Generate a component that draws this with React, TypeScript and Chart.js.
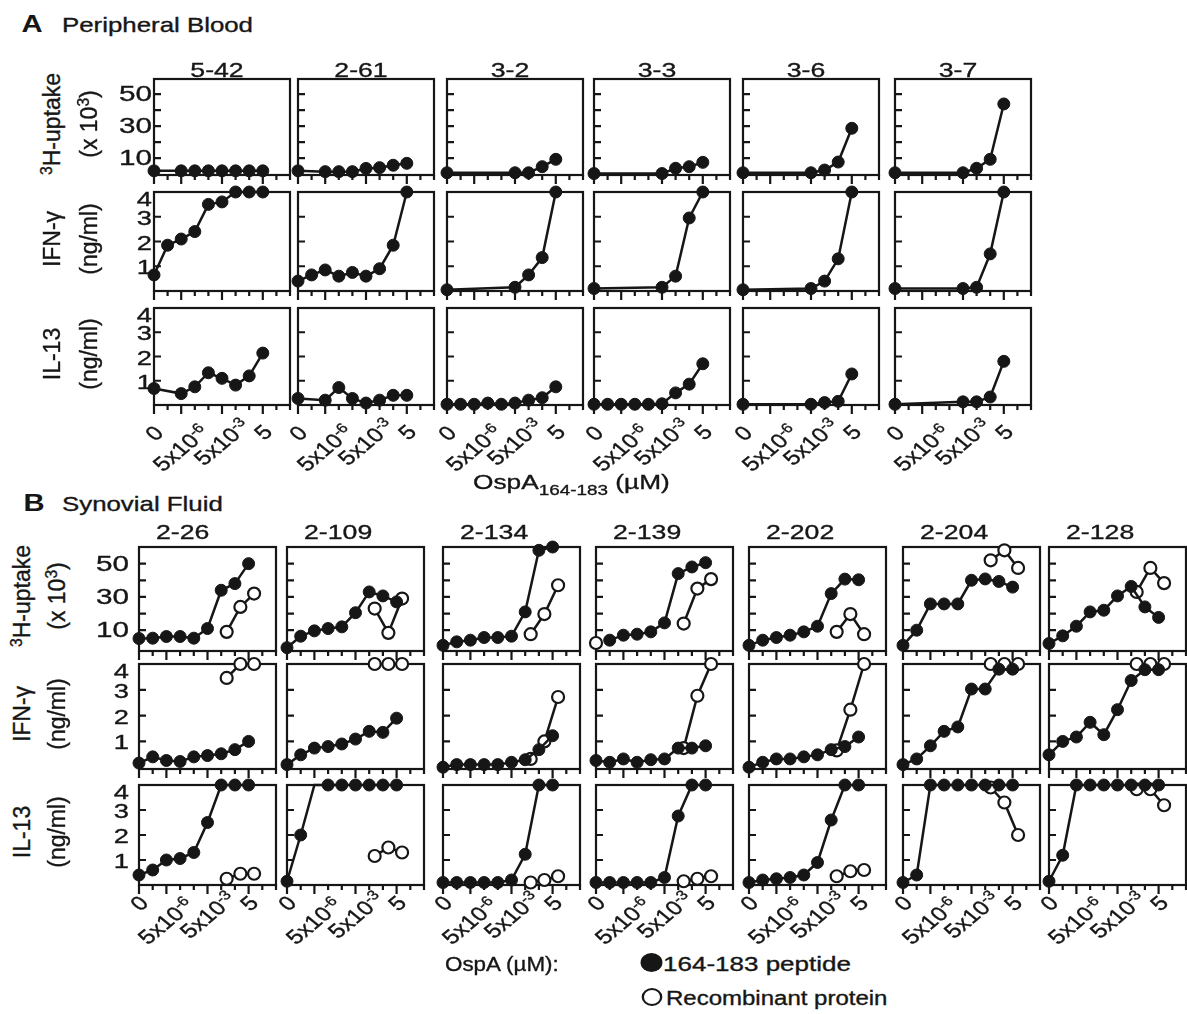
import React, { useEffect, useRef } from "react";
import { Chart, registerables } from "chart.js";
Chart.register(...registerables);

// ---------- x positions (decades: 0 = no antigen, 2 = 5x10^-6, 5 = 5x10^-3, 8 = 5 µM)
const X9 = [0, 1, 2, 3, 4, 5, 6, 7, 8];
const X8 = [0, 2, 3, 4, 5, 6, 7, 8];
const X5 = [0, 5, 6, 7, 8];
const X_1TO8 = [1, 2, 3, 4, 5, 6, 7, 8];
const XREC = [6.4, 7.4, 8.4];
const XREC_139 = [0, 3, 6.4, 7.4, 8.4];
const X_TICK_VALUES = [0, 2, 5, 8];
const X_TICK_BASE = ["0", "5x10", "5x10", "5"];
const X_TICK_SUP = ["", "-6", "-3", ""];

// ---------- A: Peripheral blood (peptide only)
const A_NAMES = ["5-42", "2-61", "3-2", "3-3", "3-6", "3-7"];
const a542_H = [2, 2, 2, 2, 2, 2, 2, 2];
const a542_I = [0.65, 1.85, 2.1, 2.4, 3.5, 3.6, 4, 4, 4];
const a542_L = [0.68, 0.47, 0.75, 1.33, 1.1, 0.82, 1.2, 2.14];
const a261_H = [2, 1.5, 1.5, 1.5, 3.5, 4, 5.5, 6.7];
const a261_I = [0.4, 0.65, 0.85, 0.6, 0.75, 0.6, 0.9, 1.85, 4];
const a261_L = [0.27, 0.2, 0.72, 0.27, 0.08, 0.2, 0.4, 0.4];
const a32_H = [0.8, 0.8, 0.8, 4.6, 9.2];
const a32_I = [0.05, 0.15, 0.65, 1.35, 4];
const a32_L = [0.03, 0.03, 0.03, 0.08, 0.03, 0.08, 0.2, 0.3, 0.75];
const a33_H = [0.3, 0.3, 3.6, 4.6, 7.3];
const a33_I = [0.1, 0.15, 0.6, 2.95, 4];
const a33_L = [0.03, 0.03, 0.03, 0.03, 0.03, 0.05, 0.5, 0.86, 1.7];
const a36_H = [0.8, 0.8, 2.5, 7.5, 28.6];
const a36_I = [0.05, 0.1, 0.4, 1.3, 4];
const a36_L = [0.03, 0.03, 0.1, 0.15, 1.28];
const a37_H = [0.8, 0.8, 3.6, 9.2, 43.8];
const a37_I = [0.1, 0.1, 0.15, 1.5, 4];
const a37_L = [0.03, 0.13, 0.13, 0.33, 1.8];

// ---------- B: Synovial fluid (peptide = filled, recombinant = open)
const B_NAMES = ["2-26", "2-109", "2-134", "2-139", "2-202", "2-204", "2-128"];
const b226_H = [5, 5.2, 6.2, 6.2, 5.2, 11, 34, 38, 50];
const b226_Hr = [9, 24, 32];
const b226_I = [0.16, 0.4, 0.26, 0.22, 0.4, 0.45, 0.52, 0.68, 1.0];
const b226_Ir = [3.46, 4, 4];
const b226_L = [0.4, 0.6, 1.0, 1.06, 1.3, 2.5, 4, 4, 4];
const b226_Lr = [0.25, 0.45, 0.45];
const b2109_H = [-0.5, 6.4, 9.6, 11, 12, 20.5, 33, 30.6, 27];
const b2109_Hr = [23, 8.4, 29];
const b2109_I = [0.1, 0.48, 0.74, 0.8, 0.9, 1.09, 1.39, 1.35, 1.9];
const b2109_Ir = [4, 4, 4];
const b2109_L = [0.15, 2.0, 4, 4, 4, 4, 4, 4, 4];
const b2109_Lr = [1.16, 1.5, 1.3];
const b2134_H = [0.9, 3, 4, 5.6, 5.6, 6.4, 21, 58, 60];
const b2134_Hr = [7.6, 19.7, 37];
const b2134_I = [0, 0.1, 0.1, 0.1, 0.1, 0.19, 0.29, 0.68, 1.22];
const b2134_Ir = [0.32, 1.0, 2.72];
const b2134_L = [0.1, 0.1, 0.1, 0.1, 0.1, 0.2, 1.23, 4, 4];
const b2134_Lr = [0.1, 0.2, 0.35];
const b2139_H = [4, 7, 7.6, 9, 14.4, 44, 48, 50.6];
const b2139_Hr = [2.3, null, 14, 35, 40.7];
const b2139_I = [0.26, 0.19, 0.32, 0.19, 0.29, 0.32, 0.74, 0.74, 0.83];
const b2139_Ir = [0.74, 2.77, 4];
const b2139_L = [0.1, 0.1, 0.1, 0.1, 0.1, 0.3, 2.76, 4, 4];
const b2139_Lr = [0.15, 0.25, 0.35];
const b2202_H = [0.9, 4, 5.6, 7, 9, 12.4, 32, 40.7, 40.3];
const b2202_Hr = [9, 19.7, 7.6];
const b2202_I = [0, 0.19, 0.32, 0.32, 0.4, 0.48, 0.68, 0.8, 1.17];
const b2202_Ir = [0.65, 2.23, 4];
const b2202_L = [0.1, 0.2, 0.25, 0.3, 0.4, 0.9, 2.6, 4, 4];
const b2202_Lr = [0.35, 0.55, 0.6];
const b2204_H = [0.9, 10, 25.8, 25.8, 25.8, 40, 40.8, 39.3, 35.9];
const b2204_Hr = [52, 58, 47.4];
const b2204_I = [0.1, 0.32, 0.83, 1.39, 1.56, 3.03, 3.03, 3.8, 3.8];
const b2204_Ir = [4, 4, 4];
const b2204_L = [0.1, 0.4, 4, 4, 4, 4, 4, 4, 4];
const b2204_Lr = [3.9, 3.3, 2.0];
const b2128_H = [2, 6.6, 12.4, 21, 22, 30.6, 36.3, 24, 17.7];
const b2128_Hr = [33, 47.4, 38.3];
const b2128_I = [0.48, 1.0, 1.17, 1.74, 1.26, 2.23, 3.36, 3.78, 3.78];
const b2128_Ir = [4, 4, 4];
const b2128_L = [0.15, 1.19, 4, 4, 4, 4, 4, 4, 4];
const b2128_Lr = [3.83, 3.83, 3.19];

// ---------- layout (positions only)
const FONT = '"Liberation Sans", Arial, Helvetica, sans-serif';
const SX = 1.27;
const INK = "#161616";
const A_LEFTS = [154, 298, 447, 594, 743, 895];
const A_W = 136;
const B_LEFTS = [139, 287, 443, 596, 749, 903, 1049];
const B_W = 137;
const H_TICKS = [10, 20, 30, 40, 50];
const C_TICKS = [1, 2, 3];
const A_ROWS = [
  { top: 79, bottom: 175, ymin: -0.6, ymax: 59.4, ticks: H_TICKS },
  { top: 192, bottom: 291, ymin: 0, ymax: 4, ticks: C_TICKS },
  { top: 308, bottom: 405, ymin: 0, ymax: 4, ticks: C_TICKS },
];
const B_ROWS = [
  { top: 547, bottom: 651, ymin: -2.5, ymax: 60, ticks: H_TICKS },
  { top: 664, bottom: 769, ymin: -0.07, ymax: 4, ticks: C_TICKS },
  { top: 785, bottom: 885, ymin: 0, ymax: 4, ticks: C_TICKS },
];

type Series = { x: number[]; y: (number | null)[]; open?: boolean; hide?: number[] };

const s = (x: number[], y: (number | null)[], open = false, hide: number[] = []): Series => ({ x, y, open, hide });

const A_DATA: Series[][][] = [
  [[s(X8, a542_H)], [s(X9, a542_I)], [s(X8, a542_L)]],
  [[s(X8, a261_H)], [s(X9, a261_I)], [s(X8, a261_L)]],
  [[s(X5, a32_H)], [s(X5, a32_I)], [s(X9, a32_L)]],
  [[s(X5, a33_H)], [s(X5, a33_I)], [s(X9, a33_L)]],
  [[s(X5, a36_H)], [s(X5, a36_I)], [s(X5, a36_L)]],
  [[s(X5, a37_H)], [s(X5, a37_I)], [s(X5, a37_L)]],
];
const B_DATA: Series[][][] = [
  [[s(X9, b226_H), s(XREC, b226_Hr, true)], [s(X9, b226_I), s(XREC, b226_Ir, true)], [s(X9, b226_L), s(XREC, b226_Lr, true)]],
  [[s(X9, b2109_H), s(XREC, b2109_Hr, true)], [s(X9, b2109_I), s(XREC, b2109_Ir, true)], [s(X9, b2109_L, false, [2]), s(XREC, b2109_Lr, true)]],
  [[s(X9, b2134_H), s(XREC, b2134_Hr, true)], [s(X9, b2134_I), s(XREC, b2134_Ir, true)], [s(X9, b2134_L), s(XREC, b2134_Lr, true)]],
  [[s(X_1TO8, b2139_H), s(XREC_139, b2139_Hr, true)], [s(X9, b2139_I), s(XREC, b2139_Ir, true)], [s(X9, b2139_L), s(XREC, b2139_Lr, true)]],
  [[s(X9, b2202_H), s(XREC, b2202_Hr, true)], [s(X9, b2202_I), s(XREC, b2202_Ir, true)], [s(X9, b2202_L), s(XREC, b2202_Lr, true)]],
  [[s(X9, b2204_H), s(XREC, b2204_Hr, true)], [s(X9, b2204_I), s(XREC, b2204_Ir, true)], [s(X9, b2204_L), s(XREC, b2204_Lr, true)]],
  [[s(X9, b2128_H), s(XREC, b2128_Hr, true)], [s(X9, b2128_I), s(XREC, b2128_Ir, true)], [s(X9, b2128_L), s(XREC, b2128_Lr, true)]],
];

const PAD = 11;
const PAD_B = 14;

type PanelProps = { left: number; top: number; w: number; h: number; ymin: number; ymax: number; ticks: number[]; series: Series[] };

function Panel({ left, top, w, h, ymin, ymax, ticks, series }: PanelProps) {
  const ref = useRef<HTMLCanvasElement | null>(null);
  useEffect(() => {
    if (!ref.current) return;
    const frame = {
      id: "frame",
      beforeDatasetsDraw(chart: any) {
        const { ctx, chartArea, scales } = chart;
        const { left: l, right: r, top: t, bottom: b } = chartArea;
        ctx.save();
        ctx.strokeStyle = INK;
        ctx.lineWidth = 2.2;
        ctx.strokeRect(l, t, r - l, b - t);
        ctx.beginPath();
        for (let v = 0; v <= 10; v++) {
          const px = scales.x.getPixelForValue(v);
          const major = X_TICK_VALUES.includes(v);
          ctx.moveTo(px, b);
          ctx.lineTo(px, b + (major ? 9 : 5));
        }
        for (const v of ticks) {
          const py = scales.y.getPixelForValue(v);
          ctx.moveTo(l, py);
          ctx.lineTo(l + 7, py);
        }
        ctx.stroke();
        ctx.restore();
      },
    };
    const chart = new Chart(ref.current, {
      type: "line",
      data: {
        datasets: series.map((sr) => ({
          data: sr.x.map((x, i) => ({ x, y: sr.y[i] })),
          borderColor: INK,
          borderWidth: 2.5,
          pointRadius: sr.x.map((_, i) => ((sr.hide || []).includes(i) ? 0 : 6)),
          pointBackgroundColor: sr.open ? "#ffffff" : INK,
          pointBorderColor: INK,
          pointBorderWidth: sr.open ? 2.2 : 1,
          tension: 0,
          spanGaps: false,
          clip: false as any,
        })),
      },
      options: {
        animation: false,
        responsive: false,
        devicePixelRatio: 1,
        events: [],
        layout: { padding: { left: PAD, right: PAD, top: PAD, bottom: PAD_B } },
        plugins: { legend: { display: false }, tooltip: { enabled: false } },
        scales: {
          x: { type: "linear", min: 0, max: 10, display: false },
          y: { type: "linear", min: ymin, max: ymax, display: false },
        },
      },
      plugins: [frame],
    } as any);
    return () => chart.destroy();
  }, []);
  return (
    <canvas
      ref={ref}
      width={w + 2 * PAD}
      height={h + PAD + PAD_B}
      style={{ position: "absolute", left: left - PAD, top: top - PAD, width: w + 2 * PAD, height: h + PAD + PAD_B }}
    />
  );
}

type TxtProps = { x: number; y: number; size: number; children: any; align?: "center" | "left" | "right"; rot?: number; sx?: number; bold?: boolean };
function Txt({ x, y, size, children, align = "center", rot = 0, sx = SX, bold = false }: TxtProps) {
  const tx = align === "center" ? "-50%" : align === "right" ? "-100%" : "0%";
  const origin = align === "center" ? "center center" : align === "right" ? "right center" : "left center";
  return (
    <div
      style={{
        position: "absolute",
        left: x,
        top: y,
        fontFamily: FONT,
        fontSize: size,
        fontWeight: bold ? 700 : 400,
        lineHeight: 1,
        whiteSpace: "nowrap",
        color: INK,
        WebkitTextStroke: bold ? "0px" : "0.35px " + INK,
        transformOrigin: origin,
        transform: `translate(${tx},-50%) scaleX(${sx}) rotate(${rot}deg)`,
      }}
    >
      {children}
    </div>
  );
}

const sup = (t: string) => <sup style={{ fontSize: "0.68em", verticalAlign: "0.5em", lineHeight: 0 }}>{t}</sup>;

function valToPx(row: { top: number; bottom: number; ymin: number; ymax: number }, v: number) {
  return row.bottom - ((v - row.ymin) / (row.ymax - row.ymin)) * (row.bottom - row.top);
}

function XLabels({ lefts, w, bottom, offs }: { lefts: number[]; w: number; bottom: number; offs: number[] }) {
  const out: any[] = [];
  lefts.forEach((l, pi) => {
    X_TICK_VALUES.forEach((v, i) => {
      const px = l + (v / 10) * w;
      out.push(
        <Txt key={`${pi}-${i}`} x={px} y={bottom + offs[i]} size={20} rot={-45} sx={1.22}>
          {X_TICK_BASE[i]}
          {X_TICK_SUP[i] ? sup(X_TICK_SUP[i]) : null}
        </Txt>
      );
    });
  });
  return <>{out}</>;
}

function YLabels({ rows, right }: { rows: any[]; right: number }) {
  const out: any[] = [];
  rows.forEach((row, ri) => {
    const labs = ri === 0 ? [10, 30, 50] : [1, 2, 3, 4];
    labs.forEach((v) => {
      const y = valToPx(row, v) + (v === 4 ? 6 : 0);
      out.push(
        <Txt key={`${ri}-${v}`} x={right} y={y} size={ri === 0 ? 22 : 21} sx={ri === 0 ? 1.35 : 1.3} align="right">
          {String(v)}
        </Txt>
      );
    });
  });
  return <>{out}</>;
}

function RowTitles({ rows, x1, x2 }: { rows: any[]; x1: number; x2: number }) {
  const titles = [
    [<>{sup("3")}H-uptake</>, <>(x 10{sup("3")})</>],
    [<>IFN-γ</>, <>(ng/ml)</>],
    [<>IL-13</>, <>(ng/ml)</>],
  ];
  return (
    <>
      {rows.map((row, i) => {
        const cy = (row.top + row.bottom) / 2 - 3;
        return (
          <React.Fragment key={i}>
            <Txt x={x1} y={cy} size={23} rot={-90} sx={1.05}>{titles[i][0]}</Txt>
            <Txt x={x2} y={cy} size={23} rot={-90} sx={1.05}>{titles[i][1]}</Txt>
          </React.Fragment>
        );
      })}
    </>
  );
}

export default function App() {
  useEffect(() => {
    document.body.style.margin = "0";
  }, []);
  const panels: any[] = [];
  A_LEFTS.forEach((l, c) => {
    A_ROWS.forEach((row, r) => {
      panels.push(
        <Panel key={`a${c}${r}`} left={l} top={row.top} w={A_W} h={row.bottom - row.top} ymin={row.ymin} ymax={row.ymax} ticks={row.ticks} series={A_DATA[c][r]} />
      );
    });
  });
  B_LEFTS.forEach((l, c) => {
    B_ROWS.forEach((row, r) => {
      panels.push(
        <Panel key={`b${c}${r}`} left={l} top={row.top} w={B_W} h={row.bottom - row.top} ymin={row.ymin} ymax={row.ymax} ticks={row.ticks} series={B_DATA[c][r]} />
      );
    });
  });
  return (
    <div style={{ position: "absolute", left: 0, top: 0, width: 1187, height: 1014, background: "#fff", overflow: "hidden" }}>
      {panels}
      {/* panel headings */}
      <Txt x={32} y={24} size={23} bold>A</Txt>
      <Txt x={62} y={24} size={21} align="left" sx={1.23}>Peripheral Blood</Txt>
      <Txt x={34} y={503} size={23} bold>B</Txt>
      <Txt x={62} y={503} size={21} align="left" sx={1.23}>Synovial Fluid</Txt>
      {/* column titles */}
      {A_NAMES.map((n, i) => (
        <Txt key={n} x={A_LEFTS[i] + A_W / 2 - 5} y={69} size={21}>{n}</Txt>
      ))}
      {B_NAMES.map((n, i) => (
        <Txt key={n} x={B_LEFTS[i] + 17} y={531} size={21} align="left">{n}</Txt>
      ))}
      {/* y tick labels */}
      <YLabels rows={A_ROWS} right={152} />
      <YLabels rows={B_ROWS} right={129} />
      {/* row titles */}
      <RowTitles rows={A_ROWS} x1={52} x2={89} />
      <RowTitles rows={B_ROWS} x1={22} x2={57} />
      {/* x tick labels */}
      <XLabels lefts={A_LEFTS} w={A_W} bottom={405} offs={[28, 43, 37, 27]} />
      <XLabels lefts={B_LEFTS} w={B_W} bottom={885} offs={[18, 36, 30, 18]} />
      {/* A x-axis title */}
      <Txt x={473} y={481} size={21} align="left" sx={1.25}>
        OspA<sub style={{ fontSize: "0.72em", verticalAlign: "-0.45em", lineHeight: 0 }}>164-183</sub> (µM)
      </Txt>
      {/* legend */}
      <Txt x={445} y={964} size={20} align="left" sx={1.12}>OspA (µM):</Txt>
      <div style={{ position: "absolute", left: 642, top: 953, width: 19, height: 19, borderRadius: "50%", background: INK, transform: "scaleX(1.15)" }} />
      <Txt x={663} y={964} size={20} align="left" sx={1.3}>164-183 peptide</Txt>
      <div style={{ position: "absolute", left: 643, top: 988, width: 14, height: 14, borderRadius: "50%", border: "2px solid " + INK, background: "#fff", transform: "scaleX(1.15)" }} />
      <Txt x={666} y={998} size={20} align="left" sx={1.2}>Recombinant protein</Txt>
    </div>
  );
}
